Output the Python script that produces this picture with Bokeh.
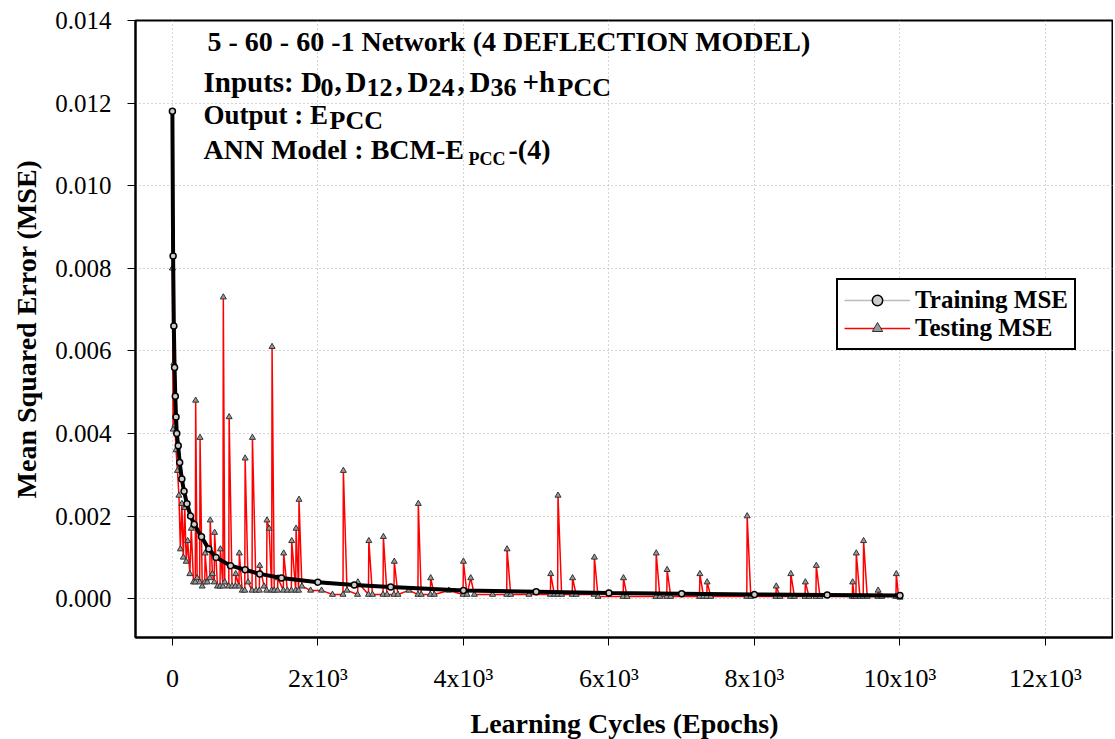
from bokeh.plotting import figure
from bokeh.models import Label, Legend, LegendItem, FixedTicker, Range1d
from bokeh.embed import file_html
from bokeh.resources import INLINE

train_epochs = [0, 10, 20, 30, 40, 50, 60, 80, 100, 130, 160, 200, 250, 300, 400, 500, 600, 800,
                1000, 1200, 1500, 2000, 2500, 3000, 4000, 5000, 6000, 7000, 8000, 9000, 10000]
train_mse = [0.0118, 0.0083, 0.0066, 0.0056, 0.0049, 0.0044, 0.0040, 0.0037, 0.0033, 0.0029, 0.0026,
             0.0023, 0.0020, 0.0018, 0.0015, 0.0012, 0.0010, 0.0008, 0.0007, 0.0006, 0.0005, 0.0004,
             0.00033, 0.00028, 0.0002, 0.00017, 0.00014, 0.00012, 0.0001, 0.00009, 0.00008]

test_points = [
    (0, 0.0080), (10, 0.0041), (20, 0.0057), (35, 0.0042), (50, 0.0036), (70, 0.0031), (90, 0.0025),
    (110, 0.0012), (130, 0.0023), (150, 0.0010), (170, 0.0022), (190, 0.0009), (210, 0.0014),
    (240, 0.0006), (260, 0.0017), (290, 0.0004), (315, 0.0004), (320, 0.0048), (340, 0.0005),
    (375, 0.0004), (380, 0.0039), (410, 0.0003), (445, 0.0004), (450, 0.0011), (480, 0.0004),
    (515, 0.0005), (520, 0.0019), (550, 0.0006), (575, 0.0004), (580, 0.0016), (620, 0.0003),
    (655, 0.0003), (660, 0.0012), (695, 0.0003), (700, 0.0073), (720, 0.0004), (775, 0.0003),
    (780, 0.0044), (820, 0.0003), (865, 0.0003), (870, 0.0006), (915, 0.0003), (920, 0.0011),
    (960, 0.0002), (995, 0.0002), (1000, 0.0034), (1040, 0.0004), (1095, 0.0002), (1100, 0.0039),
    (1150, 0.0002), (1195, 0.0002), (1200, 0.0008), (1260, 0.0003), (1295, 0.0002), (1300, 0.0019),
    (1330, 0.0017), (1365, 0.0002), (1370, 0.0061), (1400, 0.0002), (1445, 0.0002), (1450, 0.0005),
    (1525, 0.0002), (1530, 0.0011), (1580, 0.0002), (1635, 0.0002), (1640, 0.0014), (1695, 0.0002),
    (1700, 0.0017), (1735, 0.0002), (1740, 0.0024), (1780, 0.0003), (1900, 0.0002), (2050, 0.0002),
    (2200, 0.0001), (2345, 0.0001), (2350, 0.0031), (2400, 0.0002), (2545, 0.0001), (2550, 0.0004),
    (2695, 0.0001), (2700, 0.0014), (2750, 0.0001), (2895, 0.0001), (2900, 0.0015), (2950, 0.0001),
    (3045, 0.0001), (3050, 0.0009), (3100, 0.0001), (3250, 0.0002), (3375, 0.0001), (3380, 0.0023),
    (3420, 0.0001), (3545, 0.0001), (3550, 0.0005), (3600, 0.0001), (3800, 0.0002), (3995, 0.0001),
    (4000, 0.0009), (4050, 0.0001), (4100, 0.0005), (4150, 0.0001), (4400, 0.0001), (4595, 0.0001),
    (4600, 0.0012), (4650, 0.0001), (4900, 0.0001), (5195, 0.0001), (5200, 0.0006), (5250, 0.0001),
    (5295, 0.0001), (5300, 0.0025), (5350, 0.0001), (5495, 0.0001), (5500, 0.0005), (5550, 0.0001),
    (5795, 0.0001), (5800, 0.0010), (5850, 0.00005), (6195, 0.00005), (6200, 0.0005), (6250, 0.00005),
    (6645, 0.00005), (6650, 0.0011), (6700, 0.00005), (6795, 0.00005), (6800, 0.0007), (6850, 0.00005),
    (7245, 0.00005), (7250, 0.0006), (7300, 0.00005), (7345, 0.00005), (7350, 0.0004), (7400, 0.00005),
    (7895, 0.00005), (7900, 0.0020), (7950, 0.00005), (8295, 0.00005), (8300, 0.0003), (8350, 0.00005),
    (8495, 0.00005), (8500, 0.0006), (8550, 0.00005), (8695, 0.00005), (8700, 0.0004), (8750, 0.00005),
    (8845, 0.00005), (8850, 0.0008), (8900, 0.00005), (9345, 0.00005), (9350, 0.0004), (9370, 0.00005),
    (9395, 0.00005), (9400, 0.0011), (9450, 0.00005), (9495, 0.00005), (9500, 0.0014), (9550, 0.00005),
    (9695, 0.00005), (9700, 0.0002), (9750, 0.00005), (9945, 0.00005), (9950, 0.0006), (9980, 0.00005),
    (10000, 0.00003)]
test_epochs = [e for e, _ in test_points]
test_mse = [v for _, v in test_points]

x_ticks = [0, 2000, 4000, 6000, 8000, 10000, 12000]
x_tick_labels = ["0", "2x10³", "4x10³", "6x10³", "8x10³", "10x10³", "12x10³"]
y_ticks = [0, 0.002, 0.004, 0.006, 0.008, 0.010, 0.012, 0.014]

FONT = "Liberation Serif"
XMIN, XMAX = -507, 12935
YMIN, YMAX = -0.00094, 0.014
FL, FT = 135, 20  # frame left/top in page pixels

p = figure(frame_width=978, frame_height=617, min_border_left=FL, min_border_top=FT,
           min_border_right=0, min_border_bottom=94, output_backend="svg", toolbar_location=None,
           x_range=Range1d(XMIN, XMAX), y_range=Range1d(YMIN, YMAX))
p.outline_line_color = "black"
p.outline_line_width = 2
p.background_fill_color = "white"
p.border_fill_color = "white"

for g in (p.xgrid, p.ygrid):
    g.grid_line_color = "#aaaaaa"
    g.grid_line_dash = "1 3"
p.xaxis.ticker = FixedTicker(ticks=x_ticks)
p.xaxis.major_label_overrides = {t: l for t, l in zip(x_ticks, x_tick_labels)}
p.yaxis.ticker = FixedTicker(ticks=y_ticks)
p.yaxis.major_label_overrides = {t: f"{t:.3f}" for t in y_ticks}
for ax in (p.xaxis, p.yaxis):
    ax.major_label_text_font = FONT
    ax.major_label_text_font_size = "25px"
    ax.major_label_text_color = "black"
    ax.axis_label_text_font = FONT
    ax.axis_label_text_font_size = "28px"
    ax.axis_label_text_font_style = "bold"
    ax.axis_label_text_color = "black"
    ax.axis_line_color = "black"
    ax.axis_line_width = 2
    ax.major_tick_line_color = "black"
    ax.major_tick_out = 8
    ax.major_tick_in = 0
    ax.minor_tick_line_color = None
p.xaxis.major_label_text_font_size = "26px"
p.xaxis.axis_label = "Learning Cycles (Epochs)"
p.yaxis.axis_label = "Mean Squared Error (MSE)"
p.xaxis.major_label_standoff = 18
p.xaxis.axis_label_standoff = 12
p.yaxis.major_label_standoff = 16
p.yaxis.axis_label_standoff = 10

r_tl = p.line(test_epochs, test_mse, line_color="red", line_width=1.5)
r_ts = p.scatter(test_epochs, test_mse, marker="triangle", size=6, fill_color="#999999",
                 line_color="#333333", line_width=1)
r_trl = p.line(train_epochs, train_mse, line_color="black", line_width=4)
r_trg = p.line(train_epochs, train_mse, line_color="#bbbbbb", line_width=1.5, visible=False)
r_trs = p.scatter(train_epochs, train_mse, marker="circle", size=6, fill_color="#cccccc",
                  line_color="black", line_width=1.5)

legend = Legend(items=[LegendItem(label="Training MSE", renderers=[r_trg, r_trs]),
                       LegendItem(label="Testing MSE", renderers=[r_tl, r_ts])],
                location=(701, 287))
legend.label_text_font = FONT
legend.label_text_font_size = "25px"
legend.label_text_font_style = "bold"
legend.label_text_color = "black"
legend.border_line_color = "black"
legend.border_line_width = 2
legend.border_line_alpha = 1
legend.glyph_width = 66
legend.label_height = 26
legend.glyph_height = 26
legend.spacing = 0
legend.padding = 6
legend.margin = 0
p.add_layout(legend)


def px(x, y):
    return XMIN + (x - FL) / 978 * (XMAX - XMIN), YMAX - (y - FT) / 617 * (YMAX - YMIN)


def lab(text, x, y, size):
    dx, dy = px(x, y - 10)
    p.add_layout(Label(x=dx, y=dy, text=text, text_font=FONT, text_font_size=size,
                       text_font_style="bold", text_color="black", text_baseline="alphabetic"))


lab("5 - 60 - 60 -1 Network (4 DEFLECTION MODEL)", 207, 51, "28px")
lab("Inputs: D", 203, 91, "29px")
lab("0", 320, 97, "26px")
lab(",", 334, 91, "29px")
lab("D", 345, 91, "29px")
lab("12", 366, 97, "26px")
lab(",", 395, 91, "29px")
lab("D", 407, 91, "29px")
lab("24", 428, 97, "26px")
lab(",", 457, 91, "29px")
lab("D", 469, 91, "29px")
lab("36", 490, 97, "26px")
lab("+h", 522, 91, "29px")
lab("PCC", 557, 97, "26px")
lab("Output : E", 203, 124, "27px")
lab("PCC", 329, 130, "26px")
lab("ANN Model : BCM-E", 203, 159, "28px")
lab("PCC", 468, 168, "18px")
lab("-(4)", 508, 159, "28px")

open("out.html", "w").write(file_html(p, INLINE))
